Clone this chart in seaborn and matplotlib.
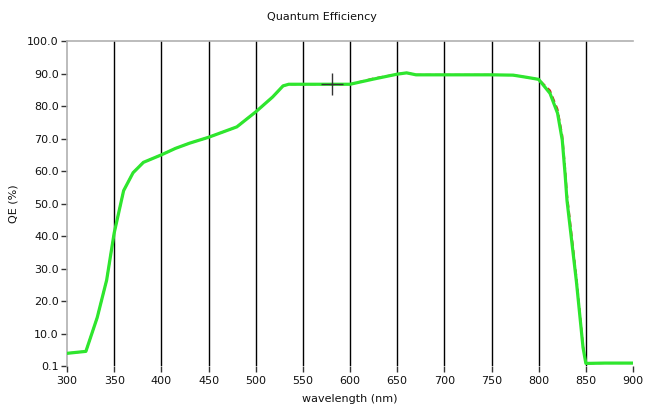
import numpy as np
import pandas as pd
import matplotlib
matplotlib.use("Agg")
import matplotlib.pyplot as plt
import seaborn as sns

# measured QE curve (green) and reference curve (red dashed, mostly hidden)
wavelength = [300, 320, 332, 342, 350, 360, 370, 381, 400, 415, 430, 450, 465, 480,
              500, 518, 529, 535, 560, 600, 625, 650, 660, 670, 700, 750, 773, 788,
              800, 812, 820, 825, 828, 830, 840, 847, 850, 870, 900]
qe_green = [4.0, 4.6, 15.0, 26.5, 41.0, 54.0, 59.5, 62.7, 65.0, 67.0, 68.6, 70.4, 72.0, 73.6,
            78.2, 82.8, 86.2, 86.7, 86.7, 86.7, 88.3, 89.8, 90.2, 89.6, 89.6, 89.6, 89.5, 88.8,
            88.2, 83.9, 77.8, 69.5, 59.0, 51.0, 26.0, 5.8, 0.9, 1.0, 1.0]
qe_red = [4.0, 4.6, 15.0, 26.5, 41.0, 54.0, 59.5, 62.7, 65.0, 67.0, 68.6, 70.4, 72.0, 73.6,
          78.2, 82.8, 86.2, 86.7, 86.7, 86.7, 88.5, 89.8, 90.2, 89.6, 89.6, 89.6, 89.5, 88.8,
          88.2, 84.8, 79.0, 71.0, 61.0, 53.0, 27.5, 6.5, 0.9, 1.0, 1.0]
cursor_wl = [581]
cursor_qe = [86.7]

x_ticks = [300, 350, 400, 450, 500, 550, 600, 650, 700, 750, 800, 850, 900]
y_ticks = [0.1, 10, 20, 30, 40, 50, 60, 70, 80, 90, 100]
grid_lines = [350, 400, 450, 500, 550, 600, 650, 700, 750, 800, 850]

df = pd.DataFrame({"wavelength": wavelength, "green": qe_green, "red": qe_red})

sns.set_style("white")
plt.rcParams["font.family"] = ["DejaVu Sans"]

fig = plt.figure(figsize=(6.52, 4.07), dpi=100)
ax = fig.add_axes([0.1028, 0.1007, 0.8681, 0.7986])

for g in grid_lines:
    ax.axvline(g, color="black", linewidth=1.0, zorder=1)

sns.lineplot(data=df, x="wavelength", y="red", ax=ax, color="#d02020",
             linewidth=1.4, linestyle=(0, (3, 2)), zorder=2)
sns.lineplot(data=df, x="wavelength", y="green", ax=ax, color="#2ee62e",
             linewidth=2.3, zorder=3)
ax.plot(cursor_wl, cursor_qe, marker="+", markersize=16, color="#333333",
        markeredgewidth=1.0, linestyle="none", zorder=4)

ax.set_xlim(300, 900)
ax.set_ylim(0.1, 100)
ax.set_xticks(x_ticks)
ax.set_yticks(y_ticks)
ax.set_yticklabels([f"{v:.1f}" for v in y_ticks])
ax.tick_params(axis="both", labelsize=8, length=4, width=1.0, color="#333333",
               direction="out", pad=2, bottom=True, left=True,
               labelcolor="#111111")
ax.tick_params(axis="x", pad=3)

for side in ["right", "bottom"]:
    ax.spines[side].set_visible(False)
ax.spines["left"].set_color("#b0b0b0")
ax.spines["top"].set_color("#b0b0b0")
ax.spines["left"].set_linewidth(1.2)
ax.spines["top"].set_linewidth(1.2)

ax.set_xlabel("wavelength (nm)", fontsize=8, labelpad=6, color="#111111")
ax.set_ylabel("QE (%)", fontsize=8, labelpad=6, color="#111111")
fig.text(0.494, 0.958, "Quantum Efficiency", ha="center", va="center", fontsize=8,
         color="#111111")

fig.savefig("out.png", dpi=100)
